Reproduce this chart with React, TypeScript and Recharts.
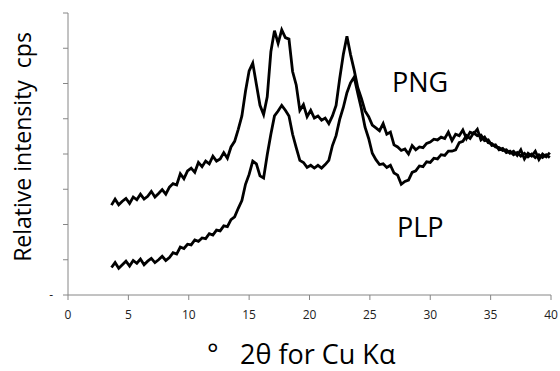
import { LineChart, Line, XAxis, YAxis } from 'recharts'

// 2θ scan positions (degrees)
const TWO_THETA = [
  3.6, 3.9, 4.2, 4.5, 4.8, 5.1, 5.4, 5.7, 6.0, 6.3,
  6.6, 6.9, 7.2, 7.5, 7.8, 8.1, 8.4, 8.7, 9.0, 9.3,
  9.6, 9.9, 10.2, 10.5, 10.8, 11.1, 11.4, 11.7, 12.0, 12.3,
  12.6, 12.9, 13.2, 13.5, 13.8, 14.1, 14.4, 14.7, 15.0, 15.3,
  15.6, 15.9, 16.2, 16.5, 16.8, 17.1, 17.4, 17.7, 18.0, 18.3,
  18.6, 18.9, 19.2, 19.5, 19.8, 20.1, 20.4, 20.7, 21.0, 21.3,
  21.6, 21.9, 22.2, 22.5, 22.8, 23.1, 23.4, 23.7, 24.0, 24.3,
  24.6, 24.9, 25.2, 25.5, 25.8, 26.1, 26.4, 26.7, 27.0, 27.3,
  27.6, 27.9, 28.2, 28.5, 28.8, 29.1, 29.4, 29.7, 30.0, 30.3,
  30.6, 30.9, 31.2, 31.5, 31.8, 32.1, 32.4, 32.7, 33.0, 33.3,
  33.6, 33.9, 34.2, 34.5, 34.8, 35.1, 35.4, 35.7, 36.0, 36.3,
  36.6, 36.9, 37.2, 37.5, 37.8, 38.1, 38.4, 38.7, 39.0, 39.3,
  39.6, 39.9,
]

const PNG = [
  2.55, 2.72, 2.56, 2.66, 2.74, 2.60, 2.78, 2.70, 2.86, 2.72,
  2.80, 2.94, 2.78, 2.88, 2.99, 2.86, 3.06, 3.16, 3.12, 3.44,
  3.30, 3.52, 3.60, 3.48, 3.76, 3.64, 3.80, 3.72, 3.94, 3.80,
  3.86, 4.04, 3.88, 4.20, 4.36, 4.70, 5.08, 5.78, 6.36, 6.58,
  5.98, 5.38, 5.12, 5.62, 6.90, 7.50, 7.14, 7.52, 7.30, 7.26,
  6.34, 5.96, 5.24, 5.40, 5.06, 5.24, 5.02, 5.08, 4.96, 5.02,
  4.86, 5.08, 5.38, 6.14, 6.82, 7.34, 6.82, 6.38, 5.88, 5.58,
  5.22, 5.06, 4.82, 4.74, 4.66, 4.86, 4.56, 4.62, 4.26, 4.20,
  4.10, 4.14, 4.00, 4.24, 4.12, 4.20, 4.18, 4.30, 4.34, 4.42,
  4.40, 4.48, 4.44, 4.62, 4.38, 4.56, 4.52, 4.68, 4.44, 4.62,
  4.58, 4.70, 4.40, 4.48, 4.32, 4.30, 4.20, 4.18, 4.10, 4.12,
  4.02, 4.08, 3.96, 4.12, 3.86, 4.02, 3.94, 4.08, 3.84, 4.00,
  3.92, 4.04,
]

const PLP = [
  0.78, 0.92, 0.76, 0.86, 0.96, 0.82, 0.98, 0.90, 1.02, 0.86,
  0.96, 1.04, 0.92, 1.00, 1.10, 0.98, 1.06, 1.20, 1.16, 1.36,
  1.32, 1.44, 1.42, 1.56, 1.52, 1.62, 1.60, 1.74, 1.70, 1.84,
  1.82, 1.96, 1.94, 2.14, 2.22, 2.46, 2.68, 3.14, 3.42, 3.80,
  3.72, 3.38, 3.32, 3.98, 4.56, 5.08, 5.22, 5.38, 5.24, 5.08,
  4.56, 4.18, 3.82, 3.76, 3.62, 3.68, 3.60, 3.68, 3.60, 3.70,
  3.82, 4.24, 4.52, 4.98, 5.32, 5.74, 6.02, 6.18, 5.72, 5.28,
  4.76, 4.44, 4.02, 3.84, 3.70, 3.72, 3.62, 3.68, 3.46, 3.40,
  3.14, 3.22, 3.26, 3.48, 3.52, 3.66, 3.64, 3.78, 3.76, 3.88,
  3.86, 3.98, 3.96, 4.08, 4.08, 4.12, 4.32, 4.36, 4.52, 4.44,
  4.60, 4.52, 4.54, 4.38, 4.40, 4.24, 4.26, 4.12, 4.16, 4.04,
  4.08, 3.98, 4.04, 3.94, 4.02, 3.92, 4.00, 3.90, 3.98, 3.90,
  3.98, 3.90,
]

const X_TICKS = [0, 5, 10, 15, 20, 25, 30, 35, 40]
const Y_TICKS = [0, 1, 2, 3, 4, 5, 6, 7, 8]

const data = TWO_THETA.map((x, i) => ({ x, png: PNG[i], plp: PLP[i] }))

const FONT = '"Open Sans", sans-serif'
const AXIS = '#868686'

function YTick({ x, y, payload }: any) {
  return (
    <text x={x} y={y + 4} textAnchor="end" fontSize={12} fontFamily={FONT} fill="#222">
      {payload.value === 0 ? '-' : ''}
    </text>
  )
}

export default function App() {
  return (
    <div style={{ position: 'absolute', left: 0, top: 0, width: 560, height: 371, background: '#fff' }}>
      <LineChart width={560} height={371} data={data} margin={{ top: 13, right: 9, bottom: 46, left: 8 }}>
        <XAxis
          dataKey="x"
          type="number"
          domain={[0, 40]}
          ticks={X_TICKS}
          height={30}
          stroke={AXIS}
          tickSize={5}
          tickMargin={10}
          tick={{ fontSize: 12, fontFamily: FONT, fill: '#222' }}
          interval={0}
        />
        <YAxis
          type="number"
          domain={[0, 8]}
          ticks={Y_TICKS}
          width={60}
          stroke={AXIS}
          tickSize={5}
          tickMargin={10}
          tick={<YTick />}
          interval={0}
        />
        <Line type="linear" dataKey="png" stroke="#000" strokeWidth={2.8} dot={false} isAnimationActive={false} />
        <Line type="linear" dataKey="plp" stroke="#000" strokeWidth={2.8} dot={false} isAnimationActive={false} />
        <text x={392} y={92} fontSize={27} fontFamily={FONT} fill="#000">PNG</text>
        <text x={397} y={237} fontSize={27} fontFamily={FONT} fill="#000">PLP</text>
        <text x={207} y={364} fontSize={27} fontFamily={FONT} fill="#000">°</text>
        <text x={240} y={364} fontSize={27} fontFamily={FONT} fill="#000">2θ for Cu Kα</text>
        <text
          x={31}
          y={147}
          transform="rotate(-90 31 147)"
          textAnchor="middle"
          fontSize={23}
          fontFamily={FONT}
          fill="#000"
          style={{ whiteSpace: 'pre' }}
        >
          Relative intensity  cps
        </text>
      </LineChart>
    </div>
  )
}
